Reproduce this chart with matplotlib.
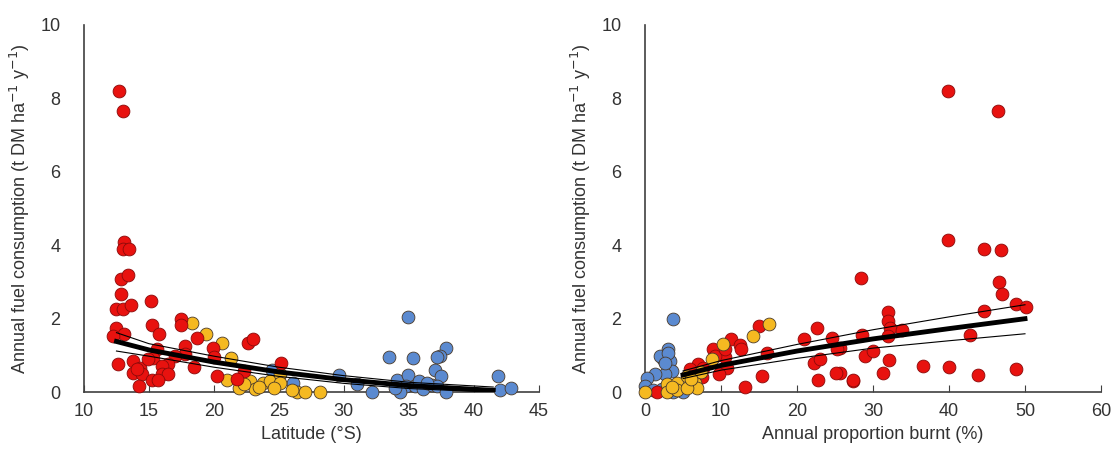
import numpy as np
import matplotlib.pyplot as plt

plt.rcParams['font.family'] = ['Liberation Sans', 'DejaVu Sans']

# ---- left panel: latitude (deg S) vs annual fuel consumption ----
lat_red = [12.7, 13.0, 13.1, 13.0, 13.5, 12.85, 13.4, 12.85, 12.5, 13.0, 13.6, 15.15,
           12.5, 13.1, 12.2, 15.2, 15.8, 17.5, 17.5, 18.7, 22.6, 23.0, 12.6, 13.8,
           14.3, 15.6, 15.3, 14.9, 17.8, 17.8, 17.0, 16.5, 16.0, 18.5, 19.9, 20.0,
           13.8, 14.5, 14.1, 16.0, 16.5, 15.2, 15.7, 14.2, 20.2, 22.3, 25.2, 21.8]
fc_red_l = [8.2, 7.65, 4.1, 3.9, 3.9, 3.07, 3.18, 2.68, 2.27, 2.27, 2.38, 2.47,
            1.75, 1.59, 1.53, 1.84, 1.59, 2.0, 1.84, 1.48, 1.34, 1.45, 0.77, 0.85,
            0.66, 1.18, 0.93, 0.90, 1.26, 1.04, 0.99, 0.77, 0.71, 0.68, 1.2, 0.96,
            0.52, 0.49, 0.63, 0.49, 0.49, 0.33, 0.33, 0.16, 0.44, 0.58, 0.79, 0.36]

lat_yel = [18.3, 19.4, 20.6, 21.3, 21.0, 21.9, 22.8, 23.2, 23.8, 24.3, 25.1, 25.1,
           26.4, 27.0, 28.2, 23.5, 24.6, 22.3, 26.0]
fc_yel_l = [1.89, 1.59, 1.34, 0.93, 0.33, 0.11, 0.30, 0.08, 0.25, 0.30, 0.49, 0.25,
            0.0, 0.0, 0.0, 0.15, 0.12, 0.22, 0.05]

lat_blu = [34.9, 33.5, 35.3, 37.9, 37.4, 37.2, 29.6, 31.0, 32.2, 34.1, 34.9, 34.8,
           35.5, 36.1, 36.8, 37.0, 37.5, 37.2, 37.9, 34.3, 41.9, 42.0, 42.9, 24.5, 26.1,
           35.8, 36.4, 33.9]
fc_blu_l = [2.05, 0.96, 0.93, 1.2, 0.99, 0.96, 0.47, 0.22, 0.0, 0.33, 0.47, 0.16,
            0.16, 0.08, 0.19, 0.6, 0.44, 0.16, 0.0, 0.0, 0.44, 0.05, 0.11, 0.6, 0.25,
            0.3, 0.25, 0.12]

fit_lat = [12.5, 15, 20, 25, 30, 35, 41.5]
fit_l = [1.38, 1.15, 0.82, 0.55, 0.34, 0.18, 0.05]
fit_l_hi = [1.62, 1.32, 0.98, 0.68, 0.45, 0.27, 0.14]
fit_l_lo = [1.12, 0.98, 0.68, 0.43, 0.24, 0.10, 0.0]

# ---- right panel: annual proportion burnt (%) vs fuel consumption ----
pb_red = [39.9, 46.5, 39.9, 44.6, 46.8, 28.4, 46.6, 47.0, 48.8, 50.1, 44.6, 32.0,
          32.0, 32.2, 33.8, 32.0, 28.6, 42.8, 29.0, 30.0, 32.1, 31.3, 27.4, 36.6,
          40.0, 43.8, 48.8, 25.7, 25.7, 15.0, 11.3, 12.5, 12.6, 8.9, 10.5, 16.1,
          10.8, 7.0, 7.6, 9.7, 7.5, 15.4, 13.2, 22.6, 20.9, 24.6, 25.3, 22.2,
          23.0, 22.8, 25.1, 27.4, 5.9, 1.5, 9.2, 10.5]
fc_red_r = [8.2, 7.65, 4.14, 3.89, 3.86, 3.12, 3.01, 2.66, 2.41, 2.33, 2.22, 2.19,
            1.95, 1.75, 1.70, 1.53, 1.56, 1.56, 0.99, 1.12, 0.88, 0.52, 0.3, 0.71,
            0.68, 0.47, 0.63, 1.2, 0.52, 1.81, 1.45, 1.29, 1.18, 1.18, 0.96, 1.07,
            0.66, 0.77, 0.66, 0.49, 0.41, 0.44, 0.14, 1.75, 1.45, 1.48, 1.18, 0.79,
            0.9, 0.33, 0.52, 0.33, 0.63, 0.0, 0.99, 1.18]

pb_yel = [16.3, 14.2, 10.3, 8.8, 2.9, 4.2, 5.5, 6.6, 6.8, 2.9, 4.2, 5.5, 0.0,
          7.3, 6.0, 3.6]
fc_yel_r = [1.86, 1.53, 1.32, 0.90, 0.22, 0.25, 0.44, 0.25, 0.11, 0.0, 0.05, 0.11, 0.0,
            0.55, 0.35, 0.15]

pb_blu = [3.7, 3.0, 2.9, 2.4, 3.3, 3.5, 2.6, 3.7, 5.0, 2.0, 3.0, 2.6, 1.3, 0.3, 0.0,
          1.0, 2.2]
fc_blu_r = [2.0, 1.18, 0.99, 0.90, 0.85, 0.58, 0.49, 0.0, 0.0, 0.99, 1.07, 0.79,
            0.49, 0.38, 0.16, 0.05, 0.1]

fit_pb = [5, 10, 20, 30, 40, 50]
fit_r = [0.47, 0.73, 1.12, 1.45, 1.73, 2.0]
fit_r_hi = [0.58, 0.86, 1.30, 1.70, 2.05, 2.38]
fit_r_lo = [0.37, 0.60, 0.92, 1.20, 1.40, 1.59]

RED = '#e8120f'
YEL = '#f5b921'
BLU = '#5b8ad0'
EDGE = '#4a3a2a'
GREY = '#404040'

fig = plt.figure(figsize=(11.2, 4.68), dpi=100)
ax1 = fig.add_axes([0.075, 0.162, 0.406, 0.785])
ax2 = fig.add_axes([0.576, 0.162, 0.407, 0.785])


def style(ax, xlim, xticks, xlabel):
    ax.set_xlim(xlim)
    ax.set_ylim(0, 10)
    ax.set_xticks(xticks)
    ax.set_yticks([0, 2, 4, 6, 8, 10])
    ax.spines['top'].set_visible(False)
    ax.spines['right'].set_visible(False)
    for s in ('left', 'bottom'):
        ax.spines[s].set_color(GREY)
        ax.spines[s].set_linewidth(1.2)
    ax.tick_params(axis='x', direction='in', length=5, color=GREY,
                   labelsize=13, labelcolor='#333333', pad=8)
    ax.tick_params(axis='y', length=0, labelsize=13, labelcolor='#333333', pad=17)
    ax.set_xlabel(xlabel, fontsize=13, color='#333333', labelpad=4)
    ax.set_ylabel('Annual fuel consumption (t DM ha$^{\u22121}$ y$^{\u22121}$)',
                  fontsize=13, color='#333333', labelpad=6)


ms = 85
ax1.scatter(lat_blu, fc_blu_l, s=ms, c=BLU, edgecolors=EDGE, linewidths=0.6, zorder=3, clip_on=False)
ax1.scatter(lat_yel, fc_yel_l, s=ms, c=YEL, edgecolors=EDGE, linewidths=0.6, zorder=3, clip_on=False)
ax1.scatter(lat_red, fc_red_l, s=ms, c=RED, edgecolors='#8a0a0a', linewidths=0.6, zorder=3, clip_on=False)
ax1.plot(fit_lat, fit_l, color='black', lw=3.5, zorder=4)
ax1.plot(fit_lat, fit_l_hi, color='black', lw=0.8, zorder=4)
ax1.plot(fit_lat, fit_l_lo, color='black', lw=0.8, zorder=4)
style(ax1, (10, 45), [10, 15, 20, 25, 30, 35, 40, 45], 'Latitude (\u00b0S)')

ax2.scatter(pb_blu, fc_blu_r, s=ms, c=BLU, edgecolors=EDGE, linewidths=0.6, zorder=3, clip_on=False)
ax2.scatter(pb_red, fc_red_r, s=ms, c=RED, edgecolors='#8a0a0a', linewidths=0.6, zorder=3, clip_on=False)
ax2.scatter(pb_yel, fc_yel_r, s=ms, c=YEL, edgecolors=EDGE, linewidths=0.6, zorder=3, clip_on=False)
ax2.plot(fit_pb, fit_r, color='black', lw=3.5, zorder=4)
ax2.plot(fit_pb, fit_r_hi, color='black', lw=0.8, zorder=4)
ax2.plot(fit_pb, fit_r_lo, color='black', lw=0.8, zorder=4)
style(ax2, (0, 60), [0, 10, 20, 30, 40, 50, 60], 'Annual proportion burnt (%)')

fig.savefig('out.png', dpi=100)
